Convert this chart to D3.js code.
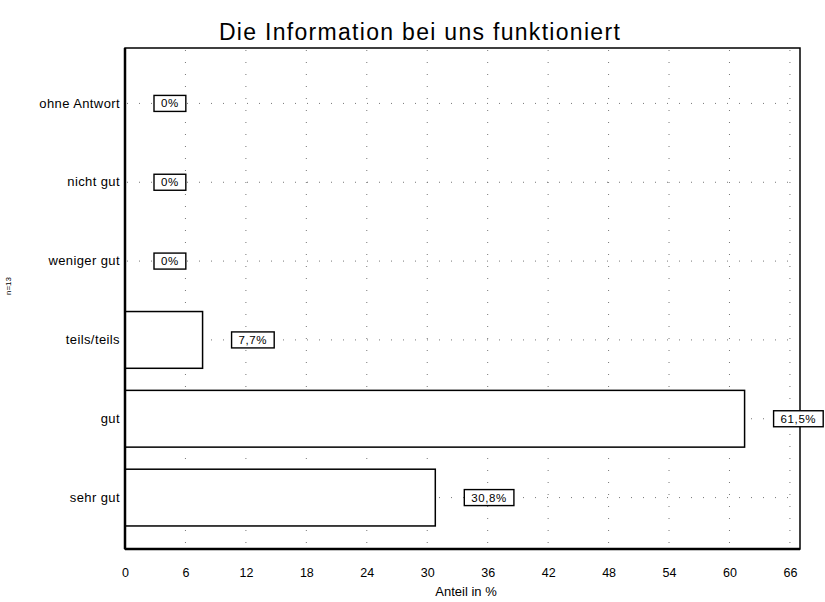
<!DOCTYPE html>
<html>
<head>
<meta charset="utf-8">
<script src="https://cdn.jsdelivr.net/npm/d3@7"></script>
<style>
  body { margin: 0; background: #fff; }
  svg { font-family: "Liberation Sans", Arial, sans-serif; }
</style>
</head>
<body>
<div id="my_dataviz"></div>
<script>
// categories, top to bottom
var categories = ["ohne Antwort", "nicht gut", "weniger gut", "teils/teils", "gut", "sehr gut"];
// share in percent
var values = [0, 0, 0, 7.7, 61.5, 30.8];
var valueLabels = ["0%", "0%", "0%", "7,7%", "61,5%", "30,8%"];
var xTicks = [0, 6, 12, 18, 24, 30, 36, 42, 48, 54, 60, 66];

var data = categories.map(function(c, i) {
  return {group: c, value: values[i], label: valueLabels[i]};
});

var W = 825, H = 602;
var plot = {left: 125, right: 800, top: 48, bottom: 549};

var svg = d3.select("#my_dataviz")
  .append("svg")
    .attr("width", W)
    .attr("height", H);

// scales
var x = d3.scaleLinear()
  .domain([0, 67])
  .range([plot.left, plot.right]);

var y = d3.scaleBand()
  .domain(categories)
  .range([64, 537])
  .paddingInner(0.28)
  .paddingOuter(0.14);

// title
svg.append("text")
  .attr("x", 420)
  .attr("y", 40)
  .attr("text-anchor", "middle")
  .style("font-size", "23px")
  .style("letter-spacing", "1.3px")
  .text("Die Information bei uns funktioniert");

// dotted grid (sparse, like the scan)
var grid = svg.append("g").attr("stroke", "#777").attr("stroke-width", 1)
  .attr("stroke-dasharray", "1,11");
grid.selectAll("line.v")
  .data(xTicks.filter(function(d) { return d > 0; }))
  .enter().append("line")
    .attr("class", "v")
    .attr("x1", function(d) { return x(d); })
    .attr("x2", function(d) { return x(d); })
    .attr("y1", plot.top + 2)
    .attr("y2", plot.bottom - 2);
grid.selectAll("line.h")
  .data(categories)
  .enter().append("line")
    .attr("class", "h")
    .attr("x1", plot.left + 2)
    .attr("x2", plot.right - 2)
    .attr("y1", function(d) { return y(d) + y.bandwidth() / 2; })
    .attr("y2", function(d) { return y(d) + y.bandwidth() / 2; });

// bars
svg.selectAll("rect.bar")
  .data(data.filter(function(d) { return d.value > 0; }))
  .enter().append("rect")
    .attr("class", "bar")
    .attr("x", x(0))
    .attr("y", function(d) { return y(d.group); })
    .attr("width", function(d) { return x(d.value) - x(0); })
    .attr("height", y.bandwidth())
    .attr("fill", "#fff")
    .attr("stroke", "#000")
    .attr("stroke-width", 1.5);

// frame
svg.append("rect")
  .attr("x", plot.left)
  .attr("y", plot.top)
  .attr("width", plot.right - plot.left)
  .attr("height", plot.bottom - plot.top)
  .attr("fill", "none")
  .attr("stroke", "#000")
  .attr("stroke-width", 1.5);
svg.append("line")
  .attr("x1", plot.left).attr("x2", plot.left)
  .attr("y1", plot.top).attr("y2", plot.bottom)
  .attr("stroke", "#000").attr("stroke-width", 2.5);
svg.append("line")
  .attr("x1", plot.left).attr("x2", plot.right)
  .attr("y1", plot.bottom).attr("y2", plot.bottom)
  .attr("stroke", "#000").attr("stroke-width", 2.5);

// value label boxes
var lab = svg.selectAll("g.lab")
  .data(data)
  .enter().append("g")
    .attr("class", "lab")
    .attr("transform", function(d) {
      return "translate(" + (x(d.value) + 29) + "," + (y(d.group) + y.bandwidth() / 2) + ")";
    });
lab.append("text")
  .attr("y", 4)
  .style("font-size", "11.5px")
  .style("letter-spacing", "0.6px")
  .text(function(d) { return d.label; })
  .each(function(d) { d.tw = this.getComputedTextLength(); })
  .attr("x", 7);
lab.insert("rect", "text")
  .attr("x", 0)
  .attr("y", -8)
  .attr("width", function(d) { return d.tw + 14; })
  .attr("height", 16)
  .attr("fill", "#fff")
  .attr("stroke", "#000")
  .attr("stroke-width", 1.4);

// axes
var xAxis = svg.append("g")
  .attr("transform", "translate(0," + plot.bottom + ")")
  .call(d3.axisBottom(x).tickValues(xTicks).tickSize(0).tickPadding(19));
xAxis.select(".domain").remove();
xAxis.selectAll("text").style("font-size", "12.5px").attr("fill", "#000");

var yAxis = svg.append("g")
  .attr("transform", "translate(" + (plot.left - 5) + ",0)")
  .call(d3.axisLeft(y).tickSize(0).tickPadding(0));
yAxis.select(".domain").remove();
yAxis.selectAll("text").style("font-size", "13px").style("letter-spacing", "0.4px").attr("fill", "#000");

// axis titles
svg.append("text")
  .attr("x", 466)
  .attr("y", 596)
  .attr("text-anchor", "middle")
  .style("font-size", "13px")
  .text("Anteil in %");

svg.append("text")
  .attr("transform", "translate(11,286) rotate(-90)")
  .attr("text-anchor", "middle")
  .style("font-size", "8px")
  .text("n=13");
</script>
</body>
</html>
